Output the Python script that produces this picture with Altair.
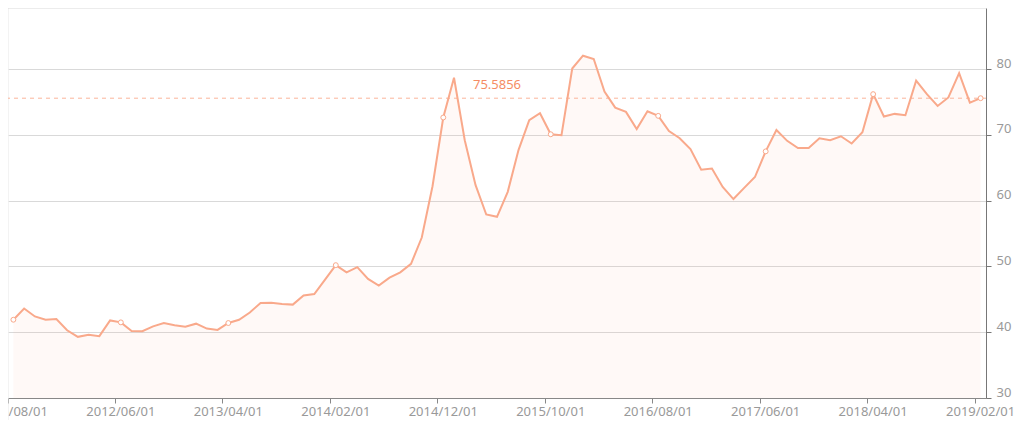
import altair as alt
import pandas as pd

# Monthly categories 2011/08 .. 2019/02
months = []
y, m = 2011, 8
while (y, m) <= (2019, 2):
    months.append(f"{y}/{m:02d}/01")
    m += 1
    if m > 12:
        m = 1
        y += 1

values = [
    41.9, 43.6, 42.4, 41.9, 42.0, 40.3, 39.3, 39.6, 39.4, 41.8,
    41.5, 40.2, 40.15, 40.9, 41.4, 41.05, 40.85, 41.3, 40.55, 40.35,
    41.4, 41.9, 43.0, 44.45, 44.5, 44.3, 44.2, 45.6, 45.8, 48.0,
    50.2, 49.1, 49.9, 48.1, 47.1, 48.3, 49.1, 50.4, 54.4, 62.2,
    72.65, 78.7, 69.2, 62.4, 57.9, 57.55, 61.35, 67.7, 72.25, 73.3,
    70.1, 69.95, 80.1, 82.05, 81.55, 76.6, 74.15, 73.5, 70.9, 73.6,
    72.9, 70.6, 69.5, 67.85, 64.7, 64.9, 62.1, 60.25, 61.95, 63.6,
    67.5, 70.75, 69.1, 68.0, 68.0, 69.5, 69.2, 69.8, 68.7, 70.4,
    76.2, 72.8, 73.2, 73.0, 78.25, 76.2, 74.4, 75.7, 79.4, 74.9,
    75.5856,
]

tick_labels = ["2011/08/01", "2012/06/01", "2013/04/01", "2014/02/01", "2014/12/01",
               "2015/10/01", "2016/08/01", "2017/06/01", "2018/04/01", "2019/02/01"]
y_ticks = [30, 40, 50, 60, 70, 80]
mark_value = 75.5856
mark_label = "75.5856"

df = pd.DataFrame({"date": months, "value": values, "idx": list(range(len(values)))})
one = pd.DataFrame({"v": [mark_value], "label": [mark_label]})

W, H = 978, 390
FONT = "Noto Sans"
LINE = "#f9a98b"

xenc = alt.X(
    "date:O",
    sort=months,
    bandPosition=0.5,
    scale=alt.Scale(type="band", domain=months, paddingInner=0, paddingOuter=0),
    axis=alt.Axis(
        values=tick_labels, bandPosition=0, labelAngle=0, grid=False,
        domainColor="#888888", tickColor="#888888", tickSize=5,
        labelColor="#999999", labelFontSize=13, labelFont=FONT, labelPadding=2,
        labelOverlap=False, title=None,
    ),
)
yenc = alt.Y(
    "value:Q",
    scale=alt.Scale(domain=[30, 89.3], nice=False, zero=False),
    axis=alt.Axis(
        orient="right", values=y_ticks, grid=True, gridColor="#d9d9d9",
        domainColor="#777777", tickColor="#777777", tickSize=5,
        labelColor="#999999", labelFontSize=13, labelFont=FONT, labelPadding=5,
        labelBaseline="alphabetic", labelOffset=-2,
        title=None,
    ),
)

base = alt.Chart(df)

area = base.mark_area(color=LINE, opacity=0.07).encode(x=xenc, y=yenc, y2=alt.datum(30))
line = base.mark_line(color=LINE, strokeWidth=2).encode(x=xenc, y=yenc)
points = base.transform_filter("datum.idx % 10 == 0").mark_point(
    shape="circle", size=24, filled=True, fill="white", stroke=LINE, strokeWidth=1, opacity=1
).encode(x=xenc, y=yenc)

top_rule = alt.Chart(one).mark_rule(color="#d9d9d9").encode(
    x=alt.value(0), x2=alt.value(W), y=alt.value(0)
)
left_rule = alt.Chart(one).mark_rule(color="#e8e8e8").encode(
    x=alt.value(0), y=alt.value(0), y2=alt.value(H + 22)
)

mean_rule = alt.Chart(one).mark_rule(color="#fbb49a", strokeDash=[4, 4], strokeWidth=1).encode(
    y=alt.Y("v:Q", scale=alt.Scale(domain=[30, 89.3], nice=False, zero=False))
)
mean_text = alt.Chart(one).mark_text(
    color="#f58c64", fontSize=13, font=FONT, dy=-13, align="center"
).encode(
    x=alt.value(W / 2),
    y=alt.Y("v:Q", scale=alt.Scale(domain=[30, 89.3], nice=False, zero=False)),
    text="label:N",
)

chart = alt.layer(
    left_rule, top_rule, area, mean_rule, line, points, mean_text
).properties(
    width=W, height=H,
    autosize=alt.AutoSizeParams(type="none"),
    padding={"left": 0, "top": 0, "right": 30, "bottom": 22},
).configure_view(strokeWidth=0)

chart.save("out.html", embed_options={"renderer": "svg", "actions": False})
